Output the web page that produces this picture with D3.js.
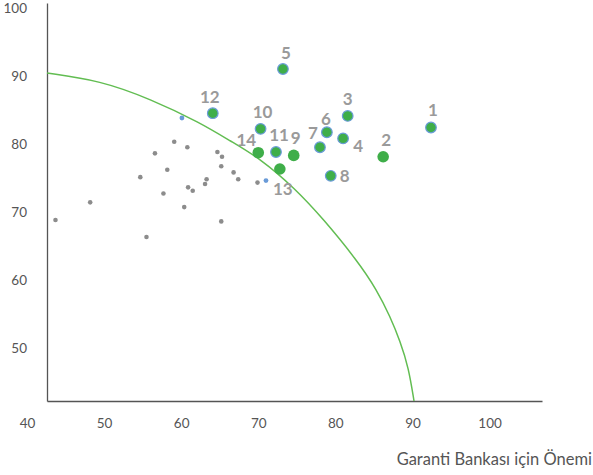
<!DOCTYPE html>
<html>
<head>
<meta charset="utf-8">
<script src="https://cdn.jsdelivr.net/npm/d3@7"></script>
<style>
  body { margin: 0; background: #fff; }
  svg text { font-family: Lato, "Open Sans", sans-serif; }
</style>
</head>
<body>
<div id="chart"></div>
<script>
(function () {
    'use strict';

    // numbered items (green markers)
    var itemIds = [1, 2, 3, 4, 5, 6, 7, 8, 9, 10, 11, 12, 13, 14];
    var itemX = [92.4, 86.2, 81.6, 81.0, 73.2, 78.9, 78.0, 79.4, 74.6, 70.3, 72.3, 64.1, 72.8, 70.0];
    var itemY = [82.4, 78.1, 84.1, 80.8, 91.0, 81.7, 79.5, 75.3, 78.3, 82.2, 78.8, 84.5, 76.3, 78.7];
    // items that also sit in the blue series
    var blueSeriesIds = [1, 3, 4, 5, 6, 7, 8, 10, 11, 12];

    // other items, gray
    var otherX = [43.7, 48.2, 54.7, 56.6, 58.2, 57.7, 59.1, 60.8, 60.9, 61.5, 60.4,
                  55.5, 63.3, 63.1, 64.7, 65.3, 65.2, 65.2, 66.8, 67.4, 69.9];
    var otherY = [68.8, 71.4, 75.1, 78.6, 76.2, 72.7, 80.3, 79.5, 73.6, 73.1, 70.7,
                  66.3, 74.8, 74.1, 78.8, 78.1, 76.7, 68.6, 75.8, 74.8, 74.3];

    // unnumbered blue series points
    var blueX = [60.1, 71.0];
    var blueY = [83.8, 74.6];

    // boundary curve
    var curveX = [42.6, 49.5, 56.0, 62.5, 66.4, 70.3, 74.8, 78.4, 82.8, 85.4, 87.1, 88.4, 89.5, 90.2];
    var curveY = [90.4, 89.3, 86.6, 83.1, 80.4, 77.8, 73.4, 69.0, 62.9, 58.5, 54.6, 51.0, 47.1, 42.2];

    var xTicks = [40, 50, 60, 70, 80, 90, 100];
    var yTicks = [50, 60, 70, 80, 90, 100];
    var xTitle = 'Garanti Bankası için Önemi';

    // label placement around each numbered marker [dx, dy]
    var labelOffsets = {
        1: [2, -18], 2: [3, -17], 3: [0, -17], 4: [15, 7], 5: [3, -16],
        6: [-1, -13], 7: [-7, -14], 8: [14, 0], 9: [2, -18], 10: [2, -17],
        11: [3, -17], 12: [-3, -16], 13: [3, 20], 14: [-12, -13]
    };

    var width = 593, height = 475;
    var svg = d3.select('#chart').append('svg')
        .attr('width', width)
        .attr('height', height);

    var x = d3.scaleLinear().domain([42.6, 106.8]).range([47, 542]);
    var y = d3.scaleLinear().domain([42.2, 100.7]).range([401, 3]);

    //axes
    var xAxis = svg.append('g')
        .attr('transform', 'translate(0,' + y.range()[0] + ')')
        .call(d3.axisBottom(x).tickValues(xTicks).tickSize(0).tickSizeOuter(0).tickPadding(17));
    var yAxis = svg.append('g')
        .attr('transform', 'translate(' + x.range()[0] + ',0)')
        .call(d3.axisLeft(y).tickValues(yTicks).tickSize(0).tickSizeOuter(0).tickPadding(20));

    [xAxis, yAxis].forEach(function (g) {
        g.select('.domain').attr('stroke', '#555').attr('stroke-width', 1.3);
        g.selectAll('text').attr('fill', '#555').style('font-size', '13.5px');
    });

    svg.append('text')
        .attr('x', 592)
        .attr('y', 465)
        .attr('text-anchor', 'end')
        .attr('fill', '#555')
        .style('font-size', '16.5px')
        .text(xTitle);

    //curve
    var curvePts = curveX.map(function (v, i) { return [v, curveY[i]]; });
    svg.append('path')
        .datum(curvePts)
        .attr('fill', 'none')
        .attr('stroke', '#62bd52')
        .attr('stroke-width', 1.5)
        .attr('d', d3.line()
            .x(function (d) { return x(d[0]); })
            .y(function (d) { return y(d[1]); })
            .curve(d3.curveBasis));

    //gray points
    svg.append('g').selectAll('circle')
        .data(otherX.map(function (v, i) { return [v, otherY[i]]; }))
        .enter().append('circle')
        .attr('cx', function (d) { return x(d[0]); })
        .attr('cy', function (d) { return y(d[1]); })
        .attr('r', 2.3)
        .attr('fill', '#8c8c8c');

    //blue points
    svg.append('g').selectAll('circle')
        .data(blueX.map(function (v, i) { return [v, blueY[i]]; }))
        .enter().append('circle')
        .attr('cx', function (d) { return x(d[0]); })
        .attr('cy', function (d) { return y(d[1]); })
        .attr('r', 2.4)
        .attr('fill', '#6a9bd8');

    //numbered items
    var items = itemIds.map(function (id, i) {
        return { id: id, x: itemX[i], y: itemY[i], blue: blueSeriesIds.indexOf(id) >= 0 };
    });

    svg.append('g').selectAll('circle')
        .data(items)
        .enter().append('circle')
        .attr('cx', function (d) { return x(d.x); })
        .attr('cy', function (d) { return y(d.y); })
        .attr('r', function (d) { return d.blue ? 5.3 : 5.8; })
        .attr('fill', '#3fae49')
        .attr('stroke', function (d) { return d.blue ? '#6a9bd8' : 'none'; })
        .attr('stroke-width', 1.2);

    svg.append('g').selectAll('text')
        .data(items)
        .enter().append('text')
        .attr('x', function (d) { return x(d.x) + labelOffsets[d.id][0]; })
        .attr('y', function (d) { return y(d.y) + labelOffsets[d.id][1]; })
        .attr('dy', '0.36em')
        .attr('text-anchor', 'middle')
        .attr('fill', '#9a9a9a')
        .style('font-size', '17px')
        .style('font-weight', 'bold')
        .text(function (d) { return d.id; });
})();
</script>
</body>
</html>
